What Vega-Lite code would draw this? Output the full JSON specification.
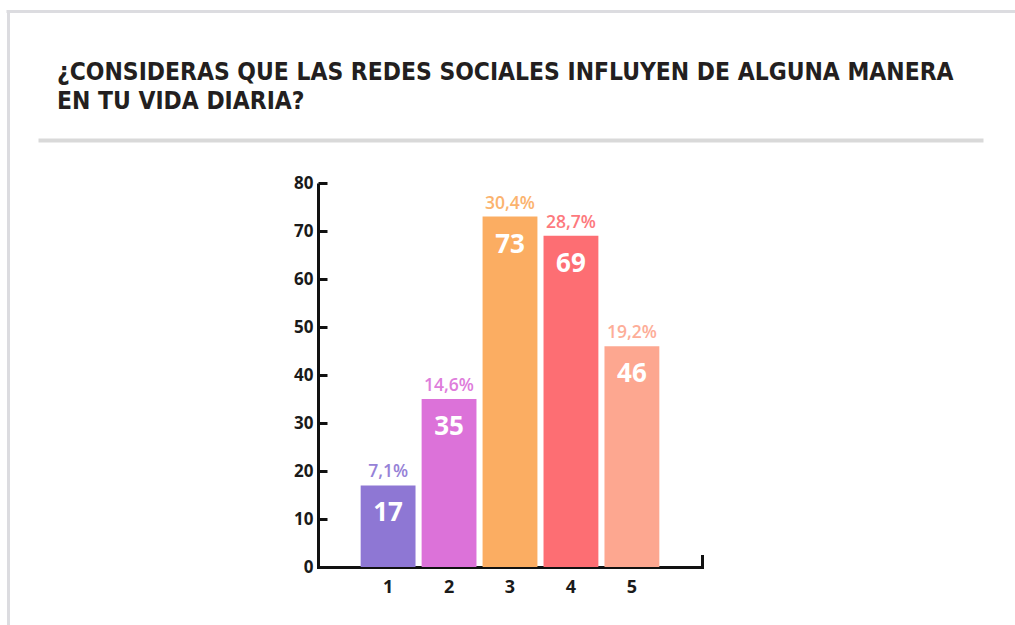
{
  "$schema": "https://vega.github.io/schema/vega-lite/v6.json",
  "usermeta": {"embedOptions": {"actions": false}},
  "width": 384,
  "height": 384,
  "autosize": {"type": "none"},
  "padding": {"left": 318, "top": 183, "right": 313, "bottom": 58},
  "background": "white",
  "title": {
    "text": ["¿CONSIDERAS QUE LAS REDES SOCIALES INFLUYEN DE ALGUNA MANERA", "EN TU VIDA DIARIA?"],
    "anchor": "start",
    "frame": "group",
    "orient": "top",
    "offset": 0,
    "dx": -261,
    "dy": 103,
    "font": "DejaVu Sans Condensed",
    "fontSize": 24.4,
    "fontWeight": "bold",
    "color": "#231f20",
    "lineHeight": 29
  },
  "config": {"view": {"stroke": null}},
  "layer": [
    {
      "data": {
        "values": [
          {"cat": "1", "n": 17, "pct": "7,1%"},
          {"cat": "2", "n": 35, "pct": "14,6%"},
          {"cat": "3", "n": 73, "pct": "30,4%"},
          {"cat": "4", "n": 69, "pct": "28,7%"},
          {"cat": "5", "n": 46, "pct": "19,2%"}
        ]
      },
      "encoding": {
        "x": {
          "field": "cat",
          "type": "nominal",
          "scale": {"paddingInner": 0.1, "paddingOuter": 0.7},
          "axis": {
            "orient": "bottom",
            "title": null,
            "grid": false,
            "ticks": false,
            "labelAngle": 0,
            "labelPadding": 11,
            "labelFont": "Open Sans",
            "labelFontSize": 18,
            "labelFontWeight": "bold",
            "labelColor": "#1a1a1a",
            "domainColor": "#111111",
            "domainWidth": 3,
            "domainCap": "square"
          }
        },
        "y": {
          "field": "n",
          "type": "quantitative",
          "scale": {"domain": [0, 80], "nice": false},
          "axis": {
            "orient": "left",
            "title": null,
            "grid": false,
            "values": [0, 10, 20, 30, 40, 50, 60, 70, 80],
            "tickSize": -9,
            "tickWidth": 3,
            "tickColor": "#111111",
            "labelPadding": 14,
            "labelFont": "Open Sans",
            "labelFontSize": 17,
            "labelFontWeight": "bold",
            "labelColor": "#1a1a1a",
            "domainColor": "#111111",
            "domainWidth": 3
          }
        }
      },
      "layer": [
        {
          "mark": {"type": "bar"},
          "encoding": {
            "color": {
              "field": "cat",
              "type": "nominal",
              "scale": {"domain": ["1", "2", "3", "4", "5"], "range": ["#8e77d4", "#dc72d9", "#fbad62", "#fd6e73", "#fda790"]},
              "legend": null
            }
          }
        },
        {
          "mark": {"type": "text", "baseline": "alphabetic", "dy": -8, "font": "Open Sans", "fontSize": 17.5, "fontWeight": 600, "opacity": 0.92},
          "encoding": {
            "text": {"field": "pct"},
            "color": {"field": "cat", "type": "nominal", "legend": null}
          }
        },
        {
          "mark": {"type": "text", "baseline": "middle", "dy": 28, "font": "Open Sans", "fontSize": 26, "fontWeight": "bold", "fill": "white"},
          "encoding": {"text": {"field": "n"}}
        }
      ]
    },
    {
      "data": {"values": [{"k": 0}]},
      "mark": {"type": "point", "opacity": 0},
      "encoding": {
        "x": {
          "datum": 0,
          "type": "quantitative",
          "scale": {"domain": [0, 1], "range": [-280, 665], "nice": false, "zero": false},
          "axis": {"orient": "top", "offset": 43, "domainColor": "#d9d9d9", "domainWidth": 4, "ticks": false, "labels": false, "grid": false, "title": null}
        }
      }
    },
    {
      "data": {"values": [{"k": 0}]},
      "mark": {"type": "point", "opacity": 0},
      "encoding": {
        "x": {
          "datum": 0,
          "type": "quantitative",
          "scale": {"domain": [0, 1], "range": [-312, 697], "nice": false, "zero": false},
          "axis": {"orient": "top", "offset": 172, "domainColor": "#dcdce0", "domainWidth": 3, "ticks": false, "labels": false, "grid": false, "title": null}
        }
      }
    },
    {
      "data": {"values": [{"k": 0}]},
      "mark": {"type": "point", "opacity": 0},
      "encoding": {
        "y": {
          "datum": 0,
          "type": "quantitative",
          "scale": {"domain": [0, 1], "range": [442, -173], "nice": false, "zero": false},
          "axis": {"orient": "left", "offset": 310, "domainColor": "#dcdce0", "domainWidth": 3, "ticks": false, "labels": false, "grid": false, "title": null}
        }
      }
    },
    {
      "data": {"values": [{"k": 0}]},
      "mark": {"type": "point", "opacity": 0},
      "encoding": {
        "y": {
          "datum": 0,
          "type": "quantitative",
          "scale": {"domain": [0, 1], "range": [384, 373], "nice": false, "zero": false},
          "axis": {"orient": "right", "offset": 0, "domainColor": "#111111", "domainWidth": 3, "domainCap": "square", "ticks": false, "labels": false, "grid": false, "title": null}
        }
      }
    }
  ],
  "resolve": {
    "scale": {"x": "independent", "y": "independent", "color": "shared"},
    "axis": {"x": "independent", "y": "independent"}
  }
}
